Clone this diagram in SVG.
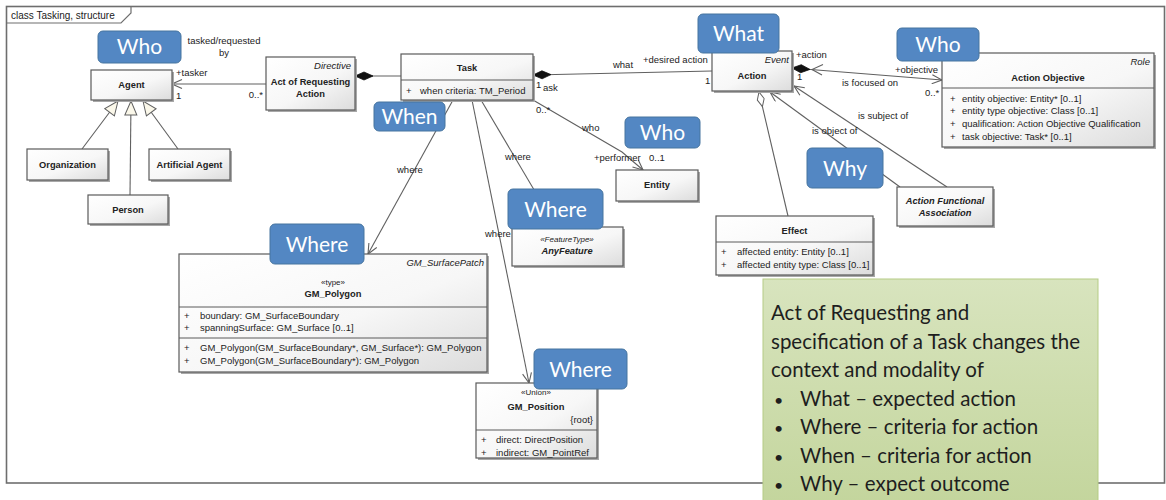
<svg xmlns="http://www.w3.org/2000/svg" width="1166" height="500" viewBox="0 0 1166 500">
<style>
  .box{fill:url(#g);stroke:#5a5a5a;stroke-width:1.2}
  .sh{fill:#a8a8a8}
  .div{stroke:#5a5a5a;stroke-width:1}
  .t{font-family:"Liberation Sans",Arial,sans-serif;font-size:9.5px;fill:#222}
  .b{font-weight:bold;text-anchor:middle;font-size:9.3px}
  .i{font-style:italic}
  .m{text-anchor:middle}
  .e{text-anchor:end}
  .st{font-size:8px}
  .c{fill:none;stroke:#606060;stroke-width:1.1}
  .lbl{fill:#5387c3;stroke:#46749f;stroke-width:1}
  .lt{font-family:Lato,"Open Sans",sans-serif;font-size:21px;fill:#fff;text-anchor:middle}
  .nt{font-family:Lato,"Open Sans",sans-serif;font-size:20.5px;fill:#1e1e1e}
</style>
<defs>
  <linearGradient id="g" x1="0" y1="0" x2="1" y2="1">
    <stop offset="0" stop-color="#ffffff"/>
    <stop offset="0.55" stop-color="#f7f7f7"/>
    <stop offset="1" stop-color="#dcdcdc"/>
  </linearGradient>
  <linearGradient id="gn" x1="0" y1="0" x2="0" y2="1">
    <stop offset="0" stop-color="#d8e4be"/>
    <stop offset="1" stop-color="#c3d59c"/>
  </linearGradient>
  <marker id="arr" markerWidth="12" markerHeight="10" refX="11" refY="5" orient="auto" markerUnits="userSpaceOnUse">
    <path d="M1,0.5 L11,5 L1,9.5" fill="none" stroke="#606060" stroke-width="1.1"/>
  </marker>
  <marker id="dia" markerWidth="20" markerHeight="10" refX="0" refY="5" orient="auto" markerUnits="userSpaceOnUse">
    <path d="M0,5 L9,1 L18,5 L9,9 Z" fill="#111" stroke="#111" stroke-width="0.8"/>
  </marker>
  <marker id="hdia" markerWidth="18" markerHeight="10" refX="0.5" refY="5" orient="auto" markerUnits="userSpaceOnUse">
    <path d="M0.5,5 L8,1.5 L15.5,5 L8,8.5 Z" fill="#fff" stroke="#606060" stroke-width="1"/>
  </marker>
  <marker id="tri" markerWidth="16" markerHeight="14" refX="15" refY="7" orient="auto" markerUnits="userSpaceOnUse">
    <path d="M15,7 L1,1 L1,13 Z" fill="#fbf8ea" stroke="#606060" stroke-width="1"/>
  </marker>
</defs>
<rect width="1166" height="500" fill="#fff"/>

<g id="frame">
  <rect x="6.5" y="6.5" width="1158" height="476.5" fill="none" stroke="#6e6e6e" stroke-width="1.6"/>
  <path d="M6.5,23 H121 L131,13 V6.5" fill="none" stroke="#6e6e6e" stroke-width="1.2"/>
  <text x="11" y="18.5" class="t" style="font-size:10px">class Tasking, structure</text>
</g>

<g id="connectors">
  <line class="c" x1="266" y1="84" x2="172" y2="84" marker-end="url(#arr)"/>
  <line class="c" x1="355" y1="76" x2="401" y2="76" marker-start="url(#dia)"/>
  <line class="c" x1="533" y1="75" x2="712" y2="71" marker-start="url(#dia)"/>
  <line class="c" x1="792" y1="68" x2="942" y2="80" marker-start="url(#dia)" marker-end="url(#arr)"/>
  <path class="c" d="M823,64.5 L812,69.5 L822,75"/>
  <line class="c" x1="900" y1="187" x2="770" y2="92" marker-end="url(#arr)"/>
  <line class="c" x1="947" y1="187" x2="794" y2="86" marker-end="url(#arr)"/>
  <line class="c" x1="759" y1="92" x2="788" y2="216" marker-start="url(#hdia)"/>
  <polyline class="c" points="533,100 622,152 643,170" marker-end="url(#arr)"/>
  <line class="c" x1="481" y1="100" x2="556" y2="227"/>
  <line class="c" x1="472" y1="100" x2="529" y2="383" marker-end="url(#arr)"/>
  <line class="c" x1="453" y1="100" x2="368" y2="254" marker-end="url(#arr)"/>
  <line class="c" x1="82" y1="149" x2="118" y2="101" marker-end="url(#tri)"/>
  <line class="c" x1="130" y1="195" x2="131" y2="101" marker-end="url(#tri)"/>
  <line class="c" x1="178" y1="149" x2="143" y2="101" marker-end="url(#tri)"/>
  <g class="t">
    <text x="224" y="44" class="m">tasked/requested</text>
    <text x="224" y="56" class="m">by</text>
    <text x="176" y="76">+tasker</text>
    <text x="176" y="99">1</text>
    <text x="263" y="98" class="e">0..*</text>
    <text x="623" y="68" class="m">what</text>
    <text x="643" y="63">+desired action</text>
    <text x="705" y="84">1</text>
    <text x="536" y="88">1</text>
    <text x="543" y="91">ask</text>
    <text x="536" y="113">0..*</text>
    <text x="582" y="131">who</text>
    <text x="594" y="161">+performer</text>
    <text x="649" y="161">0..1</text>
    <text x="397" y="173">where</text>
    <text x="505" y="160">where</text>
    <text x="485" y="237">where</text>
    <text x="796" y="58">+action</text>
    <text x="797" y="80">1</text>
    <text x="842" y="86">is focused on</text>
    <text x="895" y="73">+objective</text>
    <text x="925" y="96">0..*</text>
    <text x="858" y="119">is subject of</text>
    <text x="812" y="134">is object of</text>
  </g>
</g>

<g id="agent">
  <rect class="sh" x="93" y="72" width="81" height="30"/>
  <rect class="box" x="91" y="70" width="81" height="30"/>
  <text class="t b" x="131.5" y="88">Agent</text>
</g>
<g id="organization">
  <rect class="sh" x="29" y="151" width="81" height="31"/>
  <rect class="box" x="27" y="149" width="81" height="31"/>
  <text class="t b" x="67.5" y="168">Organization</text>
</g>
<g id="artificial-agent">
  <rect class="sh" x="151" y="151" width="81" height="31"/>
  <rect class="box" x="149" y="149" width="81" height="31"/>
  <text class="t b" x="189.5" y="168">Artificial Agent</text>
</g>
<g id="person">
  <rect class="sh" x="90" y="197" width="80" height="29"/>
  <rect class="box" x="88" y="195" width="80" height="29"/>
  <text class="t b" x="128" y="213">Person</text>
</g>
<g id="act-of-requesting-action">
  <rect class="sh" x="268" y="59" width="89" height="53"/>
  <rect class="box" x="266" y="57" width="89" height="53"/>
  <text class="t i e" x="351" y="69">Directive</text>
  <text class="t b" x="310.5" y="85">Act of Requesting</text>
  <text class="t b" x="310.5" y="97">Action</text>
</g>
<g id="task">
  <rect class="sh" x="403" y="56" width="132" height="46"/>
  <rect class="box" x="401" y="54" width="132" height="46"/>
  <line class="div" x1="401" y1="80" x2="533" y2="80"/>
  <text class="t b" x="467" y="71">Task</text>
  <text class="t" x="406" y="93.5">+</text>
  <text class="t" x="420" y="93.5">when criteria: TM_Period</text>
</g>
<g id="action">
  <rect class="sh" x="714" y="53" width="80" height="40"/>
  <rect class="box" x="712" y="51" width="80" height="40"/>
  <text class="t i e" x="789" y="63">Event</text>
  <text class="t b" x="752" y="79">Action</text>
</g>
<g id="action-objective">
  <rect class="sh" x="944" y="55" width="212" height="94"/>
  <rect class="box" x="942" y="53" width="212" height="94"/>
  <line class="div" x1="942" y1="88" x2="1154" y2="88"/>
  <text class="t i e" x="1150" y="65">Role</text>
  <text class="t b" x="1048" y="81">Action Objective</text>
  <g class="t">
    <text x="950" y="101.5">+</text><text x="962" y="101.5">entity objective: Entity* [0..1]</text>
    <text x="950" y="114">+</text><text x="962" y="114">entity type objective: Class [0..1]</text>
    <text x="950" y="127">+</text><text x="962" y="127">qualification: Action Objective Qualification</text>
    <text x="950" y="139.5">+</text><text x="962" y="139.5">task objective: Task* [0..1]</text>
  </g>
</g>
<g id="entity">
  <rect class="sh" x="618" y="172" width="82" height="31"/>
  <rect class="box" x="616" y="170" width="82" height="31"/>
  <text class="t b" x="657" y="188">Entity</text>
</g>
<g id="action-functional-association">
  <rect class="sh" x="899" y="189" width="96" height="39"/>
  <rect class="box" x="897" y="187" width="96" height="39"/>
  <text class="t b i" x="945" y="203.5">Action Functional</text>
  <text class="t b i" x="945" y="215.5">Association</text>
</g>
<g id="effect">
  <rect class="sh" x="718" y="218" width="157" height="59"/>
  <rect class="box" x="716" y="216" width="157" height="59"/>
  <line class="div" x1="716" y1="242" x2="873" y2="242"/>
  <text class="t b" x="794.5" y="233.5">Effect</text>
  <g class="t">
    <text x="721" y="254.5">+</text><text x="737" y="254.5">affected entity: Entity [0..1]</text>
    <text x="721" y="268">+</text><text x="737" y="268">affected entity type: Class [0..1]</text>
  </g>
</g>
<g id="anyfeature">
  <rect class="sh" x="514" y="229" width="111" height="39"/>
  <rect class="box" x="512" y="227" width="111" height="39"/>
  <text class="t i m st" x="567" y="241.5">«FeatureType»</text>
  <text class="t b i" x="567" y="253.5">AnyFeature</text>
</g>
<g id="gm-polygon">
  <rect class="sh" x="181" y="256" width="308" height="118"/>
  <rect class="box" x="179" y="254" width="308" height="118"/>
  <line class="div" x1="179" y1="307" x2="487" y2="307"/>
  <line class="div" x1="179" y1="338" x2="487" y2="338"/>
  <text class="t i e" x="484" y="266">GM_SurfacePatch</text>
  <text class="t m st" x="333" y="284.5">«type»</text>
  <text class="t b" x="333" y="297">GM_Polygon</text>
  <g class="t">
    <text x="184" y="319">+</text><text x="200" y="319">boundary: GM_SurfaceBoundary</text>
    <text x="184" y="331">+</text><text x="200" y="331">spanningSurface: GM_Surface [0..1]</text>
    <text x="184" y="351">+</text><text x="200" y="351">GM_Polygon(GM_SurfaceBoundary*, GM_Surface*): GM_Polygon</text>
    <text x="184" y="363.5">+</text><text x="200" y="363.5">GM_Polygon(GM_SurfaceBoundary*): GM_Polygon</text>
  </g>
</g>
<g id="gm-position">
  <rect class="sh" x="478" y="385" width="121" height="75"/>
  <rect class="box" x="476" y="383" width="121" height="75"/>
  <line class="div" x1="476" y1="430" x2="597" y2="430"/>
  <text class="t m st" x="536" y="395">«Union»</text>
  <text class="t b" x="536" y="409.5">GM_Position</text>
  <text class="t e" x="593" y="423">{root}</text>
  <g class="t">
    <text x="481" y="443">+</text><text x="496" y="443">direct: DirectPosition</text>
    <text x="481" y="456">+</text><text x="496" y="456">indirect: GM_PointRef</text>
  </g>
</g>

<g id="label-who-agent"><rect class="lbl" x="98" y="31" width="83" height="32" rx="5"/><text class="lt" x="139.5" y="54">Who</text></g>
<g id="label-when"><rect class="lbl" x="374" y="102" width="71" height="29" rx="5"/><text class="lt" x="409.5" y="124">When</text></g>
<g id="label-what"><rect class="lbl" x="698" y="14" width="81" height="39" rx="5"/><text class="lt" x="738.5" y="41">What</text></g>
<g id="label-who-objective"><rect class="lbl" x="897" y="28" width="82" height="33" rx="5"/><text class="lt" x="938" y="52">Who</text></g>
<g id="label-who-entity"><rect class="lbl" x="625" y="117" width="75" height="31" rx="5"/><text class="lt" x="662.5" y="140">Who</text></g>
<g id="label-why"><rect class="lbl" x="807" y="148" width="76" height="40" rx="5"/><text class="lt" x="845" y="176">Why</text></g>
<g id="label-where-feature"><rect class="lbl" x="508" y="189" width="95" height="40" rx="5"/><text class="lt" x="555.5" y="217">Where</text></g>
<g id="label-where-polygon"><rect class="lbl" x="270" y="224" width="94" height="40" rx="5"/><text class="lt" x="317" y="252">Where</text></g>
<g id="label-where-position"><rect class="lbl" x="534" y="349" width="93" height="40" rx="5"/><text class="lt" x="580.5" y="377">Where</text></g>

<g id="note">
  <rect x="763" y="279" width="335" height="230" fill="url(#gn)" stroke="#b5cc85" stroke-width="1"/>
  <g class="nt">
    <text x="771" y="320">Act of Requesting and</text>
    <text x="771" y="348.5">specification of a Task changes the</text>
    <text x="771" y="377">context and modality of</text>
    <text x="774" y="405.5" style="font-size:16px">•</text><text x="800" y="405.5">What – expected action</text>
    <text x="774" y="434" style="font-size:16px">•</text><text x="800" y="434">Where – criteria for action</text>
    <text x="774" y="462.5" style="font-size:16px">•</text><text x="800" y="462.5">When – criteria for action</text>
    <text x="774" y="491" style="font-size:16px">•</text><text x="800" y="491">Why – expect outcome</text>
  </g>
</g>
</svg>
